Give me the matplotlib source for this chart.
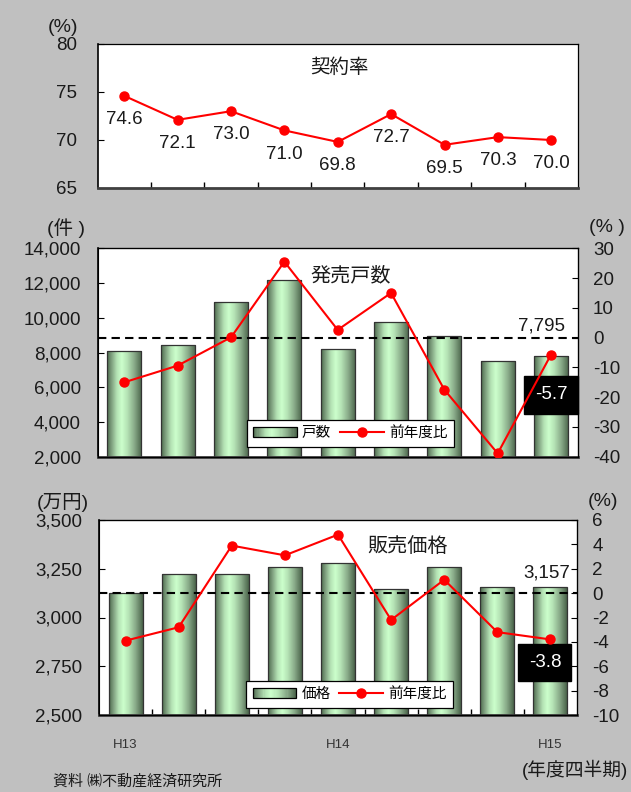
import numpy as np
import matplotlib
matplotlib.use("Agg")
import matplotlib.pyplot as plt
from matplotlib.colors import LinearSegmentedColormap
from matplotlib.patches import Rectangle
from matplotlib.lines import Line2D
from matplotlib.legend_handler import HandlerBase
from matplotlib.ticker import FixedLocator, FuncFormatter

plt.rcParams["font.family"] = ["Liberation Sans", "Noto Sans CJK JP"]

# ---- data -------------------------------------------------------------
quarter_labels = ["H13", "", "", "", "H14", "", "", "", "H15"]
contract_rate = [74.6, 72.1, 73.0, 71.0, 69.8, 72.7, 69.5, 70.3, 70.0]
units_sold = [8100, 8430, 10880, 12160, 8200, 9740, 8970, 7495, 7795]
units_yoy = [-15.0, -9.4, 0.1, 25.5, 2.6, 15.0, -17.5, -38.9, -5.7]
avg_price = [3127, 3223, 3223, 3261, 3279, 3148, 3261, 3156, 3157]
price_yoy = [-3.9, -2.8, 3.9, 3.1, 4.8, -2.2, 1.1, -3.2, -3.8]

rate_ticks = [65, 70, 75, 80]
units_ticks = list(range(2000, 14001, 2000))
units_yoy_ticks = list(range(-40, 31, 10))
price_ticks = [2500, 2750, 3000, 3250, 3500]
price_yoy_ticks = list(range(-10, 7, 2))

BG = "#c0c0c0"
RED = "#ff0000"
TXT = "#1a1a1a"
TICK_FS = 13.5

bar_cmap = LinearSegmentedColormap.from_list(
    "cyl",
    [(0.0, "#4c6a4c"), (0.12, "#7c9c7c"), (0.28, "#b4e2b4"), (0.42, "#ccffcc"),
     (0.58, "#b6e4b6"), (0.78, "#8aac8a"), (1.0, "#4a634a")])

fig = plt.figure(figsize=(6.31, 7.92), dpi=100, facecolor=BG)

x = np.arange(len(quarter_labels))
bw = 0.64


def style_frame(ax):
    ax.set_facecolor("white")
    for side in ("top", "right"):
        ax.spines[side].set_color("black")
        ax.spines[side].set_linewidth(0.9)
    ax.spines["left"].set_color("black")
    ax.spines["left"].set_linewidth(1.2)
    ax.spines["bottom"].set_color("#404040")
    ax.spines["bottom"].set_linewidth(2.0)
    ax.set_xlim(-0.5, len(x) - 0.5)


def boundary_ticks(ax, labels=False):
    ax.xaxis.set_minor_locator(FixedLocator(x[:-1] + 0.5))
    ax.tick_params(axis="x", which="minor", direction="in", length=4,
                   width=1.0, color="black")
    if labels:
        ax.xaxis.set_major_locator(FixedLocator([0, 4, 8]))
        ax.set_xticklabels([quarter_labels[0], quarter_labels[4], quarter_labels[8]])
        ax.tick_params(axis="x", which="major", length=0, pad=17,
                       labelsize=9.5, labelcolor="#333333")
    else:
        ax.set_xticks([])


def gradient_bars(ax, heights, base):
    bars = ax.bar(x, np.array(heights) - base, bottom=base, width=bw,
                  facecolor="none", edgecolor="#333333", linewidth=0.9, zorder=3)
    grad = np.linspace(0, 1, 128).reshape(1, -1)
    for b in bars:
        x0, y0 = b.get_x(), b.get_y()
        im = ax.imshow(grad, cmap=bar_cmap, aspect="auto", origin="lower",
                       extent=(x0, x0 + b.get_width(), y0, y0 + b.get_height()),
                       interpolation="bilinear", zorder=2)
        im.set_clip_path(b)
    return bars


class GradientHandler(HandlerBase):
    def create_artists(self, legend, orig_handle, xdescent, ydescent,
                       width, height, fontsize, trans):
        n = 40
        arts = []
        for i in range(n):
            arts.append(Rectangle((-xdescent + i * width / n, -ydescent),
                                  width / n * 1.1, height,
                                  facecolor=bar_cmap((i + 0.5) / n),
                                  edgecolor="none", transform=trans))
        arts.append(Rectangle((-xdescent, -ydescent), width, height, fill=False,
                              edgecolor="black", lw=0.9, transform=trans))
        return arts


def y_int(v, pos):
    return f"{int(v):,}"


# ---- 契約率 -------------------------------------------------------------
ax1 = fig.add_axes([97.5 / 631, 1 - 188 / 792, 480.5 / 631, 144 / 792])
style_frame(ax1)
ax1.set_ylim(65, 80)
ax1.set_yticks(rate_ticks)
ax1.tick_params(axis="y", direction="in", length=4, labelsize=TICK_FS, pad=15,
                labelcolor=TXT)
boundary_ticks(ax1)
ax1.plot(x, contract_rate, color=RED, lw=1.5, marker="o", ms=6.5, zorder=4)
for xi, v in zip(x, contract_rate):
    ax1.annotate(f"{v:.1f}", (xi, v), xytext=(0, -17), textcoords="offset points",
                 ha="center", va="center", fontsize=TICK_FS, color=TXT)
ax1.text(0.503, 0.833, "契約率", transform=ax1.transAxes, ha="center",
         va="center", fontsize=14, color=TXT)
fig.text(63 / 631, 1 - 27 / 792, "(%)", ha="center", va="center", fontsize=14,
         color=TXT)

# ---- 発売戸数 -----------------------------------------------------------
ax2 = fig.add_axes([97.7 / 631, 1 - 456.7 / 792, 480 / 631, 208.4 / 792])
style_frame(ax2)
gradient_bars(ax2, units_sold, 2000)
ax2.set_xlim(-0.5, len(x) - 0.5)
ax2.set_ylim(2000, 14000)
ax2.set_yticks(units_ticks)
ax2.yaxis.set_major_formatter(FuncFormatter(y_int))
ax2.tick_params(axis="y", direction="in", length=4, labelsize=TICK_FS, pad=12,
                labelcolor=TXT)
ax2.set_xticks([])
ax2.annotate(f"{units_sold[-1]:,}", (x[-1], units_sold[-1]), xytext=(-7, 22),
             textcoords="offset points", ha="center", va="center",
             fontsize=TICK_FS, color=TXT)

ax2r = ax2.twinx()
ax2r.set_ylim(-40, 30)
ax2r.set_yticks(units_yoy_ticks)
ax2r.yaxis.set_major_formatter(FuncFormatter(y_int))
ax2r.tick_params(axis="y", direction="in", length=4, labelsize=TICK_FS, pad=11,
                 labelcolor=TXT)
ax2r.axhline(0, color="black", lw=1.5, ls=(0, (4, 2.5)), zorder=3)
ax2r.plot(x, units_yoy, color=RED, lw=1.5, marker="o", ms=6.5, zorder=4)
ax2r.annotate(f"{units_yoy[-1]:.1f}", (x[-1], units_yoy[-1]), xytext=(0, -29),
              textcoords="offset points", ha="center", va="center",
              fontsize=TICK_FS, color="white",
              bbox=dict(boxstyle="square,pad=0.55", fc="black", ec="black"))
ax2.text(0.526, 0.867, "発売戸数", transform=ax2.transAxes, ha="center",
         va="center", fontsize=14.5, color=TXT)
fig.text(66 / 631, 1 - 228 / 792, "(件 )", ha="center", va="center",
         fontsize=14, color=TXT)
fig.text(607 / 631, 1 - 227 / 792, "(% )", ha="center", va="center",
         fontsize=14, color=TXT)

h_bar = Rectangle((0, 0), 1, 1)
h_line = Line2D([], [], color=RED, lw=1.5, marker="o", ms=6.5)
leg_kw = dict(ncol=2, loc="lower left", frameon=True, fancybox=False,
              edgecolor="black", framealpha=1, fontsize=10.5, handlelength=3.0,
              handletextpad=0.35, columnspacing=0.6, borderpad=0.45,
              borderaxespad=0, handler_map={Rectangle: GradientHandler()})
lg2 = ax2r.legend([h_bar, h_line], ["戸数", "前年度比"],
                  bbox_to_anchor=(0.31, 0.047), bbox_transform=ax2.transAxes,
                  **leg_kw)
lg2.get_frame().set_linewidth(0.9)
lg2.set_zorder(6)

# ---- 販売価格 -----------------------------------------------------------
ax3 = fig.add_axes([99 / 631, 1 - 715 / 792, 478 / 631, 195 / 792])
style_frame(ax3)
gradient_bars(ax3, avg_price, 2500)
ax3.set_xlim(-0.5, len(x) - 0.5)
ax3.set_ylim(2500, 3500)
ax3.set_yticks(price_ticks)
ax3.yaxis.set_major_formatter(FuncFormatter(y_int))
ax3.tick_params(axis="y", direction="in", length=4, labelsize=TICK_FS, pad=12,
                labelcolor=TXT)
boundary_ticks(ax3, labels=True)
ax3.annotate(f"{avg_price[-1]:,}", (x[-1], avg_price[-1]), xytext=(-2.5, 10),
             textcoords="offset points", ha="center", va="center",
             fontsize=TICK_FS, color=TXT)

ax3r = ax3.twinx()
ax3r.set_ylim(-10, 6)
ax3r.set_yticks(price_yoy_ticks)
ax3r.yaxis.set_major_formatter(FuncFormatter(y_int))
ax3r.tick_params(axis="y", direction="in", length=4, labelsize=TICK_FS, pad=11,
                 labelcolor=TXT)
ax3r.axhline(0, color="black", lw=1.5, ls=(0, (4, 2.5)), zorder=3)
ax3r.plot(x, price_yoy, color=RED, lw=1.5, marker="o", ms=6.5, zorder=4)
ax3r.annotate(f"{price_yoy[-1]:.1f}", (x[-1], price_yoy[-1]), xytext=(-4, -16.5),
              textcoords="offset points", ha="center", va="center",
              fontsize=TICK_FS, color="white",
              bbox=dict(boxstyle="square,pad=0.55", fc="black", ec="black"))
ax3.text(0.646, 0.8615, "販売価格", transform=ax3.transAxes, ha="center",
         va="center", fontsize=14.5, color=TXT)
fig.text(63 / 631, 1 - 502 / 792, "(万円)", ha="center", va="center",
         fontsize=14, color=TXT)
fig.text(603 / 631, 1 - 501 / 792, "(%)", ha="center", va="center",
         fontsize=14, color=TXT)
lg3 = ax3r.legend([h_bar, h_line], ["価格", "前年度比"],
                  bbox_to_anchor=(0.3075, 0.036), bbox_transform=ax3.transAxes,
                  **leg_kw)
lg3.get_frame().set_linewidth(0.9)
lg3.set_zorder(6)

# ---- footer -------------------------------------------------------------
fig.text(575 / 631, 1 - 770 / 792, "(年度四半期)", ha="center", va="center",
         fontsize=13.5, color=TXT)
fig.text(138 / 631, 1 - 781.5 / 792, "資料 ㈱不動産経済研究所", ha="center",
         va="center", fontsize=10.8, color=TXT)

fig.savefig("out.png", dpi=100, facecolor=BG)
